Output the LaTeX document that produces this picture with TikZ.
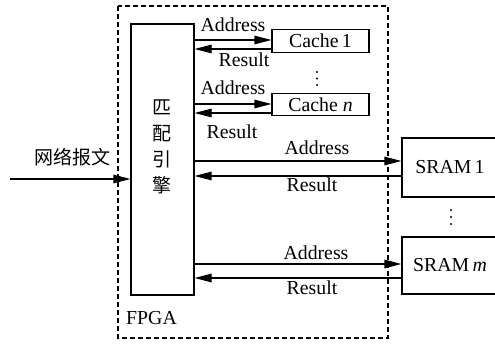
\documentclass[tikz,border=0pt]{standalone}
\usepackage{fontspec}
\setmainfont{Liberation Serif}
\newfontfamily\cjk{Noto Sans CJK SC}
\usetikzlibrary{arrows.meta}
\begin{document}
\begin{tikzpicture}[x=1pt,y=-1pt,
  every node/.style={font=\fontsize{19.8}{22}\selectfont, inner sep=0pt},
  box/.style={draw, line width=1.1pt},
  arr/.style={line width=1.1pt, -{Triangle[length=17pt,width=8.5pt]}},
  lbl/.style={font=\fontsize{19.8}{22}\selectfont},
  cjkf/.style={font=\cjk\fontsize{19}{21}\selectfont},
  dotf/.style={fill, draw=none}
]
\useasboundingbox (0,0) rectangle (495,344);
% FPGA dashed boundary
\draw[line width=1.1pt, dash pattern=on 5pt off 3pt] (118,6) rectangle (388,338);
\node[lbl, anchor=west] (fpga) at (126,318) {FPGA};
% engine
\node[box, minimum width=63pt, minimum height=271pt] (engine) at (162.5,159.5) {};
\node[cjkf, align=center] (etext) at (162,147)
  {匹\\[5pt]配\\[5pt]引\\[5pt]擎};
% caches
\node[box, minimum width=97pt, minimum height=23pt] (cache1) at (320.5,41) {Cache\,1};
\node[box, minimum width=97pt, minimum height=22pt] (cachen) at (320.5,104.5) {Cache \textit{n}};
% srams
\node[box, minimum width=96pt, minimum height=59pt] (sram1) at (450,167.5) {SRAM\,1};
\node[box, minimum width=96pt, minimum height=57pt] (sramm) at (450,265.5) {SRAM\,\textit{m}};
% vertical ellipses
\foreach \yy in {72,78.5,85} \fill (317,\yy) circle (1.2pt);
\foreach \yy in {210,217,224} \fill (451,\yy) circle (1.2pt);
% coordinates on box edges
\coordinate (c1a) at ([yshift=1pt]cache1.west);
\coordinate (c1r) at ([yshift=-8pt]cache1.west);
\coordinate (cna) at ([yshift=0.5pt]cachen.west);
\coordinate (cnr) at ([yshift=-8.5pt]cachen.west);
\coordinate (s1a) at ([yshift=6.5pt]sram1.west);
\coordinate (s1r) at ([yshift=-8.5pt]sram1.west);
\coordinate (sma) at ([yshift=1.5pt]sramm.west);
\coordinate (smr) at ([yshift=-12.5pt]sramm.west);
\coordinate (in) at (10,179);
% connectors
\draw[arr] (engine.east |- c1a) -- (c1a);
\draw[arr] (c1r) -- (engine.east |- c1r);
\draw[arr] (engine.east |- cna) -- (cna);
\draw[arr] (cnr) -- (engine.east |- cnr);
\draw[arr] (engine.east |- s1a) -- (s1a);
\draw[arr] (s1r) -- (engine.east |- s1r);
\draw[arr] (engine.east |- sma) -- (sma);
\draw[arr] (smr) -- (engine.east |- smr);
\draw[arr] (in) -- (engine.west |- in);
% labels
\node[lbl] (l1) at (233,25) {Address};
\node[lbl] (l2) at (244,60) {Result};
\node[lbl] (l3) at (233,88) {Address};
\node[lbl] (l4) at (232,132) {Result};
\node[lbl] (l5) at (317,148) {Address};
\node[lbl] (l6) at (312,185) {Result};
\node[lbl] (l7) at (316,253) {Address};
\node[lbl] (l8) at (312,288) {Result};
\node[cjkf] (inl) at (72,157) {网络报文};
\end{tikzpicture}
\end{document}
